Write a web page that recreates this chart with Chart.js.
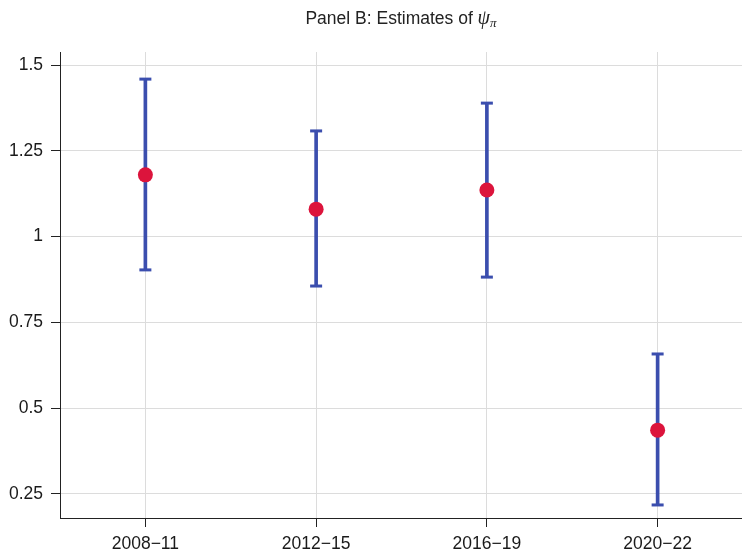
<!DOCTYPE html>
<html>
<head>
<meta charset="utf-8">
<script src="https://cdn.jsdelivr.net/npm/chart.js@4"></script>
<style>
  html, body { margin: 0; padding: 0; background: #fff; }
  #wrap { position: relative; width: 742px; height: 555px; overflow: hidden; }
  #title {
    position: absolute; top: 5px; left: 60px; width: 682px;
    text-align: center; font-family: "Liberation Sans", Arial, sans-serif;
    font-size: 17.5px; color: #222; line-height: 24px;
  }
  #title .sym { font-family: "Liberation Serif", "Times New Roman", serif; font-style: italic; font-size: 20px; }
  #title sub { font-size: 13px; vertical-align: -3px; line-height: 0; }
</style>
</head>
<body>
<div id="wrap">
  <!-- canvas is a little wider than the frame so the plot area runs to the right edge -->
  <canvas id="psiChart" width="752" height="555"></canvas>
  <div id="title">Panel B: Estimates of <span class="sym">ψ<sub>π</sub></span></div>
</div>
<script>
// Data
const periods = ["2008\u221211", "2012\u221215", "2016\u221219", "2020\u221222"];
const estimates = [1.18, 1.08, 1.136, 0.436];
const lowerBounds = [0.903, 0.856, 0.882, 0.218];
const upperBounds = [1.459, 1.308, 1.389, 0.658];
const yTickValues = [0.25, 0.5, 0.75, 1, 1.25, 1.5];
const yTickLabels = ["0.25", "0.5", "0.75", "1", "1.25", "1.5"];

const BLUE = "#3b4eae";
const RED = "#dc143c";
const GRID = "#dcdcdc";
const AXIS = "#222";

document.addEventListener("DOMContentLoaded", function () {
  const ctx = document.getElementById("psiChart").getContext("2d");

  new Chart(ctx, {
    type: "bar",
    data: {
      labels: periods,
      datasets: [
        {
          // point estimates
          type: "line",
          data: estimates,
          showLine: false,
          pointRadius: 7.5,
          pointHoverRadius: 7.5,
          pointBackgroundColor: RED,
          pointBorderWidth: 0,
          order: 0,
        },
        {
          // upper caps
          type: "line",
          data: upperBounds,
          showLine: false,
          pointStyle: "line",
          pointRadius: 6,
          pointBorderColor: BLUE,
          pointBorderWidth: 3,
          order: 1,
        },
        {
          // lower caps
          type: "line",
          data: lowerBounds,
          showLine: false,
          pointStyle: "line",
          pointRadius: 6,
          pointBorderColor: BLUE,
          pointBorderWidth: 3,
          order: 1,
        },
        {
          // interval whiskers
          type: "bar",
          data: periods.map((p, i) => [lowerBounds[i], upperBounds[i]]),
          backgroundColor: BLUE,
          borderWidth: 0,
          barThickness: 3,
          grouped: false,
          order: 2,
        },
      ],
    },
    options: {
      responsive: false,
      animation: false,
      layout: { padding: { top: 52, left: 0, right: 0, bottom: 0 } },
      plugins: {
        legend: { display: false },
        tooltip: { enabled: false },
        title: { display: false },
      },
      scales: {
        x: {
          offset: true,
          grid: {
            offset: false,
            color: GRID,
            tickColor: AXIS,
            tickLength: 9,
            lineWidth: 1,
          },
          border: { color: AXIS, width: 1 },
          ticks: {
            color: "#1a1a1a",
            padding: 7,
            maxRotation: 0,
            font: { family: "Liberation Sans", size: 17.5 },
          },
          afterFit: (scale) => { scale.height = 37; },
        },
        y: {
          min: 0.18,
          max: 1.538,
          grid: {
            color: GRID,
            tickColor: AXIS,
            tickLength: 9,
            lineWidth: 1,
          },
          border: { color: AXIS, width: 1 },
          afterBuildTicks: (scale) => {
            scale.ticks = yTickValues.map((v) => ({ value: v }));
          },
          ticks: {
            color: "#1a1a1a",
            padding: 8,
            font: { family: "Liberation Sans", size: 17.5 },
            callback: (value) => {
              const idx = yTickValues.indexOf(value);
              return idx >= 0 ? yTickLabels[idx] : "";
            },
          },
          afterFit: (scale) => { scale.width = 60; },
        },
      },
    },
  });
});
</script>
</body>
</html>
